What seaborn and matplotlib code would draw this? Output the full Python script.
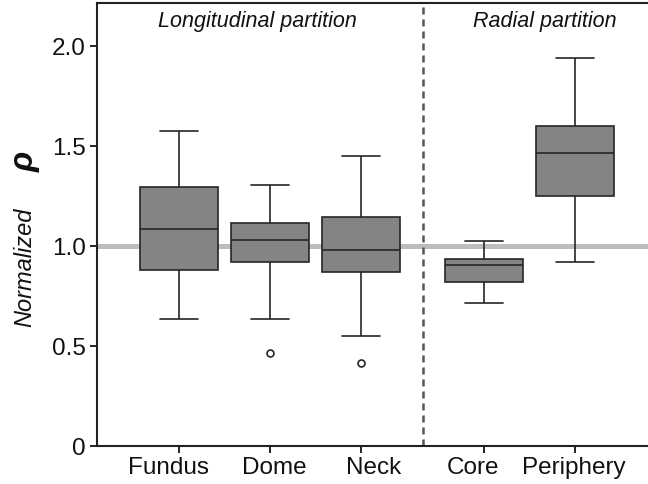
import numpy as np
import pandas as pd
import matplotlib
matplotlib.use("Agg")
import matplotlib.pyplot as plt
import matplotlib.transforms as mtransforms
import seaborn as sns

# --- Data (normalized rho per region) ---
REGIONS = ["Fundus", "Dome", "Neck", "Core", "Periphery"]
fundus = [0.635, 0.88, 1.085, 1.295, 1.575]
dome = [0.465, 0.635, 0.92, 0.97, 1.03, 1.07, 1.115, 1.2, 1.305]
neck = [0.415, 0.55, 0.87, 0.93, 0.98, 1.06, 1.145, 1.3, 1.45]
core = [0.715, 0.82, 0.905, 0.935, 1.025]
periphery = [0.92, 1.25, 1.465, 1.60, 1.94]
GROUP_LABELS = ["Longitudinal partition", "Radial partition"]

# axis positions of each region (gap between the two partitions)
POSITIONS = {"Fundus": 0, "Dome": 1, "Neck": 2, "Core": 3.35, "Periphery": 4.35}
DIVIDER = 2.675
# small horizontal nudges of the tick labels (pixels), as in the original figure
LABEL_NUDGE = {"Fundus": -10, "Dome": 4, "Neck": 13, "Core": -11, "Periphery": -1}

values = [fundus, dome, neck, core, periphery]
df = pd.DataFrame({
    "region": np.repeat(REGIONS, [len(v) for v in values]),
    "rho": np.concatenate(values),
})
df["pos"] = df["region"].map(POSITIONS)

# --- Plot ---
sns.set_theme(style="ticks")
plt.rcParams["font.family"] = ["Liberation Sans", "DejaVu Sans"]

fig = plt.figure(figsize=(6.48, 4.84), dpi=100)
ax = fig.add_axes([0.1497, 0.0785, 0.8503, 0.9153])

ax.axhline(1.0, color="#bdbdbd", lw=3.6, zorder=0.5)

sns.boxplot(data=df, x="pos", y="rho", native_scale=True, width=0.85,
            color="#848484", saturation=1, linecolor="#262626", linewidth=1.2,
            flierprops=dict(marker="o", markersize=5, markerfacecolor="white",
                            markeredgecolor="#262626", markeredgewidth=1.2),
            ax=ax)

ax.axvline(DIVIDER, color="#555555", lw=1.8, ls=(0, (2.8, 2.0)), zorder=1)

ax.set_xlim(-0.9, 5.15)
ax.set_ylim(0, 2.215)
ax.set_xticks([POSITIONS[r] for r in REGIONS])
ax.set_xticklabels(REGIONS)
ax.set_yticks([0, 0.5, 1.0, 1.5, 2.0])
ax.set_yticklabels(["0", "0.5", "1.0", "1.5", "2.0"])
ax.tick_params(labelsize=17.5, length=5, width=1.4, color="#222222", labelcolor="#111111", pad=3)
ax.set_xlabel("")
ax.set_ylabel("")

for lbl in ax.get_xticklabels():
    dx = LABEL_NUDGE[lbl.get_text()] / 100
    lbl.set_transform(lbl.get_transform() + mtransforms.ScaledTranslation(dx, 0, fig.dpi_scale_trans))

for side in ["left", "bottom", "top"]:
    ax.spines[side].set_linewidth(1.5)
    ax.spines[side].set_color("#222222")
ax.spines["right"].set_visible(False)

fig.text(257 / 648, 1 - 22 / 484, GROUP_LABELS[0], fontsize=15.5, style="italic",
         ha="center", va="center", color="#111111")
fig.text(545 / 648, 1 - 22 / 484, GROUP_LABELS[1], fontsize=15.5, style="italic",
         ha="center", va="center", color="#111111")

fig.text(25 / 648, 1 - 267 / 484, "Normalized", fontsize=17, style="italic",
         rotation=90, ha="center", va="center", color="#111111")
fig.text(25 / 648, 1 - 162 / 484, "ρ", fontsize=24, style="italic", weight="bold",
         rotation=90, ha="center", va="center", color="#111111")

fig.savefig("out.png", dpi=100)
